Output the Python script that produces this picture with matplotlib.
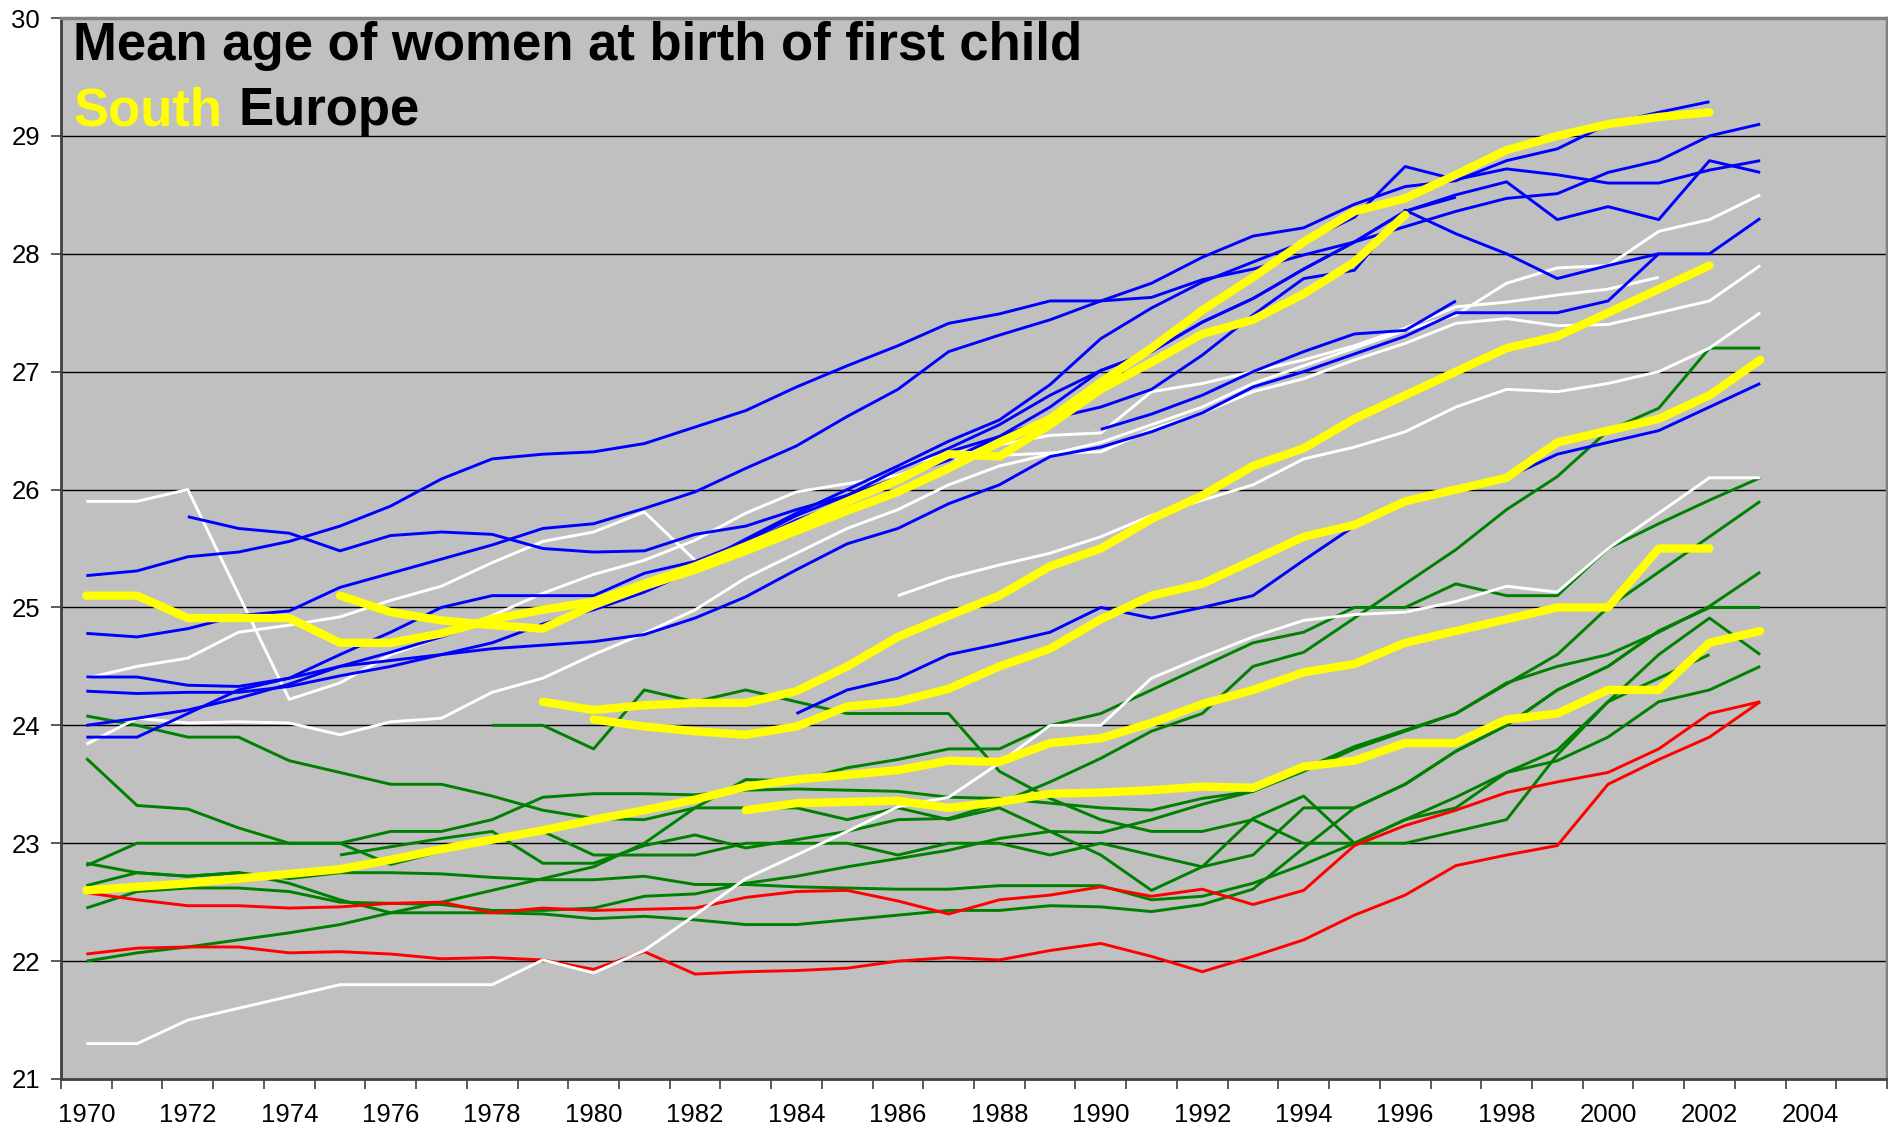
import numpy as np
import matplotlib.pyplot as plt

# ---- data: (start year, values) ----
blue_1 = (1970, [25.27, 25.31, 25.43, 25.47, 25.56, 25.69, 25.86, 26.09, 26.26, 26.30, 26.32, 26.39, 26.53, 26.67, 26.87, 27.05, 27.22, 27.41, 27.49, 27.60, 27.60, 27.75, 27.97, 28.15, 28.22, 28.42, 28.57, 28.62, 28.79, 28.89, 29.10, 29.20, 29.29])
blue_2 = (1970, [24.78, 24.75, 24.82, 24.93, 24.97, 25.17, 25.29, 25.41, 25.53, 25.67, 25.71, 25.84, 25.98, 26.18, 26.37, 26.62, 26.85, 27.17, 27.31, 27.44, 27.60, 27.63, 27.78, 27.87, 27.99, 28.10, 28.23, 28.36, 28.47, 28.51, 28.69, 28.79, 29.00, 29.10])
blue_3 = (1972, [25.77, 25.67, 25.63, 25.48, 25.61, 25.64, 25.62, 25.50, 25.47, 25.48, 25.62, 25.69, 25.83, 25.95, 26.10, 26.25, 26.45, 26.70, 27.01, 27.17, 27.42, 27.62, 27.87, 28.10, 28.36, 28.50, 28.61, 28.29, 28.40, 28.29, 28.79, 28.69])
blue_4 = (1970, [24.41, 24.41, 24.34, 24.33, 24.40, 24.50, 24.62, 24.75, 24.90, 25.00, 25.02, 25.15, 25.35, 25.58, 25.80, 26.00, 26.20, 26.41, 26.59, 26.89, 27.28, 27.54, 27.76, 27.93, 28.10, 28.31, 28.74, 28.63, 28.72, 28.67, 28.60, 28.60, 28.71, 28.79])
blue_5 = (1970, [24.29, 24.27, 24.28, 24.28, 24.33, 24.42, 24.50, 24.60, 24.70, 24.86, 24.98, 25.13, 25.32, 25.54, 25.74, 25.90, 26.08, 26.32, 26.45, 26.60, 26.70, 26.85, 27.14, 27.48, 27.79, 27.86, 28.37, 28.17, 28.00, 27.79, 27.90, 28.00])
blue_6 = (1970, [24.00, 24.06, 24.13, 24.23, 24.35, 24.50, 24.55, 24.60, 24.65, 24.68, 24.71, 24.77, 24.91, 25.09, 25.32, 25.54, 25.67, 25.88, 26.04, 26.28, 26.36, 26.49, 26.65, 26.87, 27.00, 27.15, 27.30, 27.50, 27.50, 27.50, 27.60, 28.00, 28.00, 28.30])
blue_7 = (1970, [23.90, 23.90, 24.10, 24.30, 24.40, 24.60, 24.79, 25.00, 25.10, 25.10, 25.10, 25.29, 25.39, 25.56, 25.78, 25.95, 26.17, 26.35, 26.55, 26.80, 27.01, 27.17, 27.42, 27.62, 27.87, 28.10, 28.36, 28.48])
blue_8 = (1990, [26.51, 26.64, 26.80, 27.00, 27.17, 27.32, 27.35, 27.60])
blue_9 = (1984, [24.10, 24.30, 24.40, 24.60, 24.69, 24.79, 25.00, 24.91, 25.00, 25.10, 25.40, 25.69, 25.90, 26.00, 26.10, 26.30, 26.40, 26.50, 26.70, 26.90])

white_1 = (1970, [25.90, 25.90, 26.00, 25.11, 24.22, 24.36, 24.60, 24.75, 24.93, 25.12, 25.28, 25.40, 25.57, 25.80, 25.98, 26.05, 26.12, 26.26, 26.29, 26.31, 26.32, 26.51, 26.65, 26.83, 26.94, 27.10, 27.24, 27.41, 27.45, 27.39, 27.40, 27.50, 27.60, 27.90])
white_2 = (1970, [24.40, 24.50, 24.57, 24.79, 24.85, 24.92, 25.06, 25.18, 25.38, 25.56, 25.64, 25.81, 25.40])
white_3 = (1970, [23.84, 24.06, 24.02, 24.03, 24.02, 23.92, 24.03, 24.06, 24.28, 24.40, 24.60, 24.78, 24.98, 25.25, 25.46, 25.67, 25.83, 26.04, 26.20, 26.30, 26.40, 26.55, 26.70, 26.90, 27.05, 27.20, 27.35, 27.48, 27.75, 27.88, 27.90, 28.19, 28.29, 28.50])
white_4 = (1970, [21.30, 21.30, 21.50, 21.60, 21.70, 21.80, 21.80, 21.80, 21.80, 22.01, 21.90, 22.09, 22.39, 22.70, 22.90, 23.10, 23.31, 23.39, 23.68, 24.00, 24.00, 24.40, 24.58, 24.75, 24.89, 24.94, 24.96, 25.05, 25.18, 25.13, 25.50, 25.80, 26.10, 26.10])
white_5 = (1986, [25.10, 25.25, 25.36, 25.46, 25.60, 25.78, 25.91, 26.04, 26.26, 26.36, 26.49, 26.70, 26.85, 26.83, 26.90, 27.00, 27.20, 27.50])
white_6 = (1986, [26.20, 26.30, 26.38, 26.46, 26.48, 26.83, 26.90, 27.00, 27.10, 27.22, 27.37, 27.55, 27.59, 27.65, 27.70, 27.80])

green_1 = (1970, [24.08, 24.00, 23.90, 23.90, 23.70, 23.60, 23.50, 23.50, 23.40, 23.28, 23.21, 23.20, 23.30, 23.30, 23.30, 23.20, 23.30, 23.20, 23.30, 23.10, 22.90, 22.60, 22.80, 23.21, 23.40, 23.00, 23.20, 23.39, 23.60, 23.79, 24.20, 24.60, 24.91, 24.60])
green_2 = (1970, [23.72, 23.32, 23.29, 23.13, 23.00, 23.00, 23.10, 23.10, 23.20, 23.39, 23.42, 23.42, 23.41, 23.45, 23.46, 23.45, 23.44, 23.39, 23.38, 23.34, 23.30, 23.28, 23.38, 23.44, 23.63, 23.82, 23.96, 24.10, 24.35, 24.60, 25.00, 25.30, 25.60, 25.90])
green_3 = (1970, [22.81, 23.00, 23.00, 23.00, 23.00, 23.00, 22.82, 22.93, 23.03, 23.10, 22.90, 22.90, 22.90, 23.00, 23.00, 23.00, 22.90, 23.00, 23.00, 22.90, 23.00, 22.90, 22.80, 22.90, 23.30, 23.30, 23.50, 23.78, 24.00, 24.30, 24.50, 24.80, 25.00, 25.00])
green_4 = (1970, [22.83, 22.75, 22.72, 22.75, 22.70, 22.75, 22.75, 22.74, 22.71, 22.69, 22.69, 22.72, 22.65, 22.65, 22.63, 22.62, 22.61, 22.61, 22.64, 22.64, 22.64, 22.52, 22.55, 22.66, 22.82, 23.00, 23.20, 23.30, 23.60, 23.70, 23.90, 24.20, 24.30, 24.50])
green_5 = (1970, [22.64, 22.75, 22.72, 22.75, 22.66, 22.52, 22.41, 22.41, 22.41, 22.40, 22.36, 22.38, 22.35, 22.31, 22.31, 22.35, 22.39, 22.43, 22.43, 22.47, 22.46, 22.42, 22.48, 22.61, 22.96, 23.30, 23.50, 23.78, 24.00, 24.30, 24.50, 24.80, 25.00, 25.00])
green_6 = (1970, [22.45, 22.59, 22.62, 22.62, 22.59, 22.50, 22.49, 22.48, 22.43, 22.43, 22.45, 22.55, 22.57, 22.66, 22.72, 22.80, 22.87, 22.94, 23.04, 23.10, 23.09, 23.20, 23.33, 23.44, 23.61, 23.80, 23.95, 24.10, 24.36, 24.50, 24.60, 24.79, 25.01, 25.30])
green_7 = (1970, [22.00, 22.07, 22.12, 22.18, 22.24, 22.31, 22.41, 22.50, 22.60, 22.70, 22.80, 23.00, 23.30, 23.54, 23.53, 23.64, 23.71, 23.80, 23.80, 24.00, 24.10, 24.30, 24.50, 24.70, 24.79, 25.00, 25.00, 25.20, 25.10, 25.10, 25.50, 25.71, 25.91, 26.10])
green_8 = (1975, [22.90, 22.97, 23.04, 23.10, 22.83, 22.83, 22.98, 23.07, 22.96, 23.03, 23.10, 23.20, 23.21, 23.34, 23.52, 23.72, 23.95, 24.10, 24.50, 24.62, 24.91, 25.20, 25.49, 25.83, 26.11, 26.50, 26.69, 27.20, 27.20])
green_9 = (1978, [24.00, 24.00, 23.80, 24.30, 24.20, 24.30, 24.20, 24.10, 24.10, 24.10, 23.61, 23.38, 23.20, 23.10, 23.10, 23.20, 23.00, 23.00, 23.00, 23.10, 23.20, 23.75, 24.20, 24.40, 24.60])

red_1 = (1970, [22.58, 22.52, 22.47, 22.47, 22.45, 22.46, 22.49, 22.50, 22.41, 22.45, 22.43, 22.44, 22.45, 22.54, 22.59, 22.60, 22.51, 22.40, 22.52, 22.56, 22.63, 22.55, 22.61, 22.48, 22.60, 22.98, 23.15, 23.28, 23.43, 23.52, 23.60, 23.80, 24.10, 24.20])
red_2 = (1970, [22.06, 22.11, 22.12, 22.12, 22.07, 22.08, 22.06, 22.02, 22.03, 22.01, 21.93, 22.08, 21.89, 21.91, 21.92, 21.94, 22.00, 22.03, 22.01, 22.09, 22.15, 22.04, 21.91, 22.04, 22.18, 22.39, 22.56, 22.81, 22.90, 22.98, 23.50, 23.71, 23.90, 24.20])

yellow_1 = (1975, [25.10, 24.96, 24.89, 24.85, 24.82, 25.02, 25.18, 25.32, 25.48, 25.65, 25.82, 25.98, 26.18, 26.40, 26.60, 26.91, 27.20, 27.52, 27.80, 28.10, 28.36, 28.47, 28.67, 28.88, 29.00, 29.10, 29.16, 29.20])
yellow_2 = (1970, [25.10, 25.10, 24.91, 24.91, 24.91, 24.70, 24.70, 24.78, 24.90, 24.98, 25.05, 25.20, 25.35, 25.52, 25.70, 25.90, 26.08, 26.30, 26.28, 26.55, 26.85, 27.08, 27.32, 27.44, 27.66, 27.93, 28.33])
yellow_3 = (1979, [24.20, 24.13, 24.17, 24.19, 24.19, 24.29, 24.50, 24.75, 24.93, 25.10, 25.35, 25.50, 25.75, 25.95, 26.20, 26.35, 26.60, 26.80, 27.00, 27.20, 27.30, 27.50, 27.70, 27.90])
yellow_4 = (1980, [24.05, 23.99, 23.95, 23.92, 23.99, 24.16, 24.20, 24.31, 24.50, 24.65, 24.90, 25.10, 25.20, 25.40, 25.60, 25.70, 25.90, 26.00, 26.10, 26.40, 26.50, 26.60, 26.80, 27.10])
yellow_5 = (1983, [23.28, 23.34, 23.35, 23.36, 23.30, 23.35, 23.42, 23.43, 23.45, 23.48, 23.47, 23.65, 23.70, 23.85, 23.85, 24.05, 24.10, 24.30, 24.30, 24.70, 24.80])
yellow_6 = (1970, [22.60, 22.63, 22.66, 22.70, 22.74, 22.78, 22.86, 22.95, 23.03, 23.11, 23.20, 23.28, 23.37, 23.48, 23.54, 23.58, 23.62, 23.70, 23.69, 23.85, 23.89, 24.02, 24.18, 24.30, 24.45, 24.52, 24.70, 24.80, 24.90, 25.00, 25.00, 25.50, 25.50])

blues = [blue_1, blue_2, blue_3, blue_4, blue_5, blue_6, blue_7, blue_8, blue_9]
whites = [white_1, white_2, white_3, white_4, white_5, white_6]
greens = [green_1, green_2, green_3, green_4, green_5, green_6, green_7, green_8, green_9]
reds = [red_1, red_2]
yellows = [yellow_1, yellow_2, yellow_3, yellow_4, yellow_5, yellow_6]

# ---- figure ----
W, H = 1888, 1131
fig = plt.figure(figsize=(W / 100, H / 100), dpi=100)
ax = fig.add_axes([61 / W, 52 / H, 1826 / W, 1061 / H])
ax.set_facecolor('#C0C0C0')


def draw(group, color, lw, z):
    for start, vals in group:
        x = np.arange(start, start + len(vals))
        ax.plot(x, vals, color=color, lw=lw, zorder=z,
                solid_joinstyle='round',
                solid_capstyle='round' if lw > 3 else 'butt')


draw(greens, '#008000', 2.1, 3)
draw(reds, '#FF0000', 2.1, 3)
draw(whites, '#FFFFFF', 2.1, 3)
draw(blues, '#0000FF', 2.1, 4)
draw(yellows, '#FFFF00', 6.0, 5)

ax.set_xlim(1969.5, 2005.5)
ax.set_ylim(21, 30)
for v in range(22, 30):
    ax.axhline(v, color='black', lw=1.0, zorder=1)

ax.set_xticks(np.arange(1970, 2005, 2))
ax.set_xticks(np.arange(1969.5, 2006, 1), minor=True)
ax.tick_params(axis='x', which='major', length=0, pad=17, labelsize=18.5)
ax.tick_params(axis='x', which='minor', length=7, width=1.2, direction='out', color='#404040')
ax.set_yticks(np.arange(21, 31, 1))
ax.tick_params(axis='y', length=7, width=1.2, direction='out', pad=8, labelsize=18.5, color='#404040')
for lab in ax.get_xticklabels() + ax.get_yticklabels():
    lab.set_family('Liberation Sans')

for s in ['left', 'bottom']:
    ax.spines[s].set_color('#404040')
    ax.spines[s].set_linewidth(2)
for s in ['top', 'right']:
    ax.spines[s].set_color('#808080')
    ax.spines[s].set_linewidth(2.5)

fig.text(73 / W, 1 - 60 / H, 'Mean age of women at birth of first child',
         fontsize=38, fontweight='bold', family='Liberation Sans', va='baseline')
fig.text(73 / W, 1 - 125 / H, 'South', color='#FFFF00',
         fontsize=38, fontweight='bold', family='Liberation Sans', va='baseline')
fig.text(238 / W, 1 - 125 / H, 'Europe', color='black',
         fontsize=38, fontweight='bold', family='Liberation Sans', va='baseline')

fig.savefig('out.png', dpi=100)
